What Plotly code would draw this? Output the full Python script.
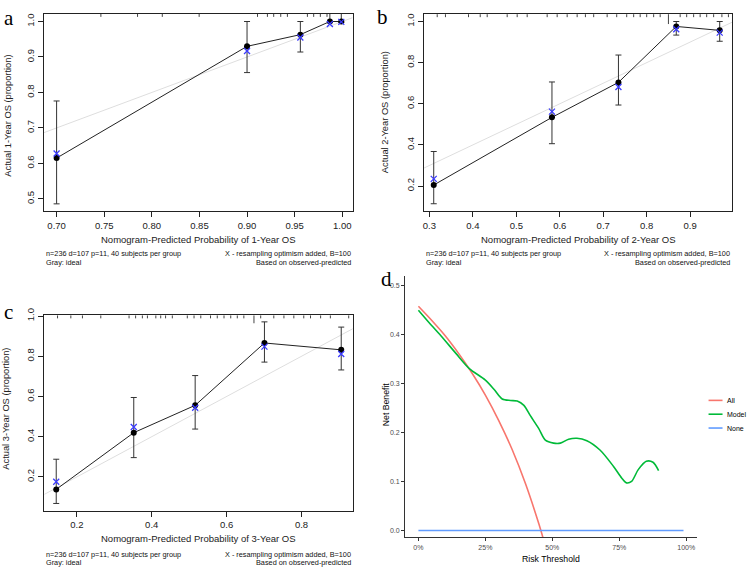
import plotly.graph_objects as go

W, H = 748, 567

def px(x):
    return x / W

def py(y):
    return 1 - y / H

# ---------------- data ----------------
# Panel a: 1-year OS calibration
a_pred = [0.700, 0.900, 0.956, 0.987, 0.999]
a_obs = [0.615, 0.930, 0.963, 1.000, 1.000]
a_lo = [0.486, 0.856, 0.914, 0.997, 0.997]
a_hi = [0.776, 1.000, 1.000, 1.030, 1.030]
a_corr = [0.628, 0.917, 0.955, 0.993, 0.999]
a_rug = [0.7465, 0.785, 0.811, 0.8497, 0.911, 0.9214, 0.928, 0.9354, 0.9424,
         0.9634, 0.970, 0.977, 0.984]
a_rug_h = [0.015] * 13

# Panel b: 2-year OS calibration
b_pred = [0.310, 0.582, 0.735, 0.868, 0.968]
b_obs = [0.205, 0.534, 0.704, 0.976, 0.957]
b_lo = [0.114, 0.406, 0.594, 0.934, 0.904]
b_hi = [0.368, 0.706, 0.837, 1.000, 1.000]
b_corr = [0.235, 0.562, 0.682, 0.962, 0.946]
b_rug = [0.318, 0.337, 0.390, 0.417, 0.433, 0.479, 0.502, 0.525, 0.571, 0.594,
         0.617, 0.640, 0.659, 0.678, 0.709, 0.731, 0.754, 0.770, 0.785, 0.800,
         0.816, 0.831, 0.850, 0.877, 0.892, 0.908, 0.923, 0.938, 0.954, 0.973,
         0.988]
b_rug_h = [0.015] * 22 + [0.05] + [0.015] * 8

# Panel c: 3-year OS calibration
c_pred = [0.145, 0.352, 0.516, 0.701, 0.906]
c_obs = [0.138, 0.420, 0.556, 0.866, 0.832]
c_lo = [0.068, 0.296, 0.438, 0.771, 0.732]
c_hi = [0.288, 0.595, 0.704, 0.971, 0.945]
c_corr = [0.176, 0.448, 0.544, 0.848, 0.811]
c_rug = [0.1485, 0.184, 0.215, 0.264, 0.3395, 0.357, 0.375, 0.3885, 0.411,
         0.424, 0.437, 0.455, 0.495, 0.513, 0.531, 0.557, 0.575, 0.593, 0.611,
         0.6285, 0.646, 0.673, 0.691, 0.726, 0.753, 0.7795, 0.806, 0.824,
         0.851, 0.877, 0.926]
c_rug_h = [0.015] * 21 + [0.04] + [0.015] * 9

# Panel d: decision curve
all_t = [0.00, 0.05, 0.10, 0.15, 0.20, 0.25, 0.30, 0.35, 0.40, 0.45, 0.47]
all_nb = [0.457, 0.428, 0.397, 0.361, 0.321, 0.276, 0.224, 0.165, 0.095, 0.013, -0.024]
model_t = [0.000, 0.041, 0.084, 0.140, 0.190, 0.249, 0.282, 0.313, 0.344, 0.369,
           0.394, 0.418, 0.449, 0.474, 0.505, 0.530, 0.561, 0.592, 0.629, 0.678,
           0.728, 0.759, 0.777, 0.796, 0.821, 0.851, 0.876, 0.897]
model_nb = [0.449, 0.423, 0.397, 0.361, 0.330, 0.307, 0.288, 0.268, 0.265, 0.264,
            0.255, 0.234, 0.208, 0.184, 0.178, 0.178, 0.186, 0.188, 0.183, 0.164,
            0.131, 0.107, 0.097, 0.100, 0.124, 0.141, 0.139, 0.122]
none_t = [0.00, 0.99]
none_nb = [0.0, 0.0]

d_names = ["All", "Model", "None"]
d_colors = ["#F8766D", "#00BA38", "#619CFF"]

# ---------------- figure ----------------
fig = go.Figure()

SANS = "Liberation Sans, Arial, sans-serif"
SERIF = "Liberation Serif, Times New Roman, serif"
BLUE_X = "#3B3BFF"

panels = [
    dict(key="", pred=a_pred, obs=a_obs, lo=a_lo, hi=a_hi, corr=a_corr,
         rug=a_rug, rug_h=a_rug_h,
         xdom=[px(43), px(352)], ydom=[py(207), py(7)],
         xr=[0.6867, 1.0108], yr=[0.4646, 1.0214],
         xt=[0.70, 0.75, 0.80, 0.85, 0.90, 0.95, 1.00], xfmt=".2f",
         yt=[0.5, 0.6, 0.7, 0.8, 0.9, 1.0],
         xtitle="Nomogram-Predicted Probability of 1-Year OS",
         ytitle="Actual 1-Year OS (proportion)",
         xtitle_pos=(197.5, 235), ytitle_pos=(7, 110),
         foot_l=43.3, foot_r=352.3, foot_y=(250, 258.3),
         letter="a", letter_pos=(1.5, 10.8)),
    dict(key="2", pred=b_pred, obs=b_obs, lo=b_lo, hi=b_hi, corr=b_corr,
         rug=b_rug, rug_h=b_rug_h,
         xdom=[px(423.3), px(732.3)], ydom=[py(206.7), py(7.3)],
         xr=[0.287, 0.997], yr=[0.078, 1.0355],
         xt=[0.3, 0.4, 0.5, 0.6, 0.7, 0.8, 0.9], xfmt=".1f",
         yt=[0.2, 0.4, 0.6, 0.8, 1.0],
         xtitle="Nomogram-Predicted Probability of 2-Year OS",
         ytitle="Actual 2-Year OS (proportion)",
         xtitle_pos=(577.8, 235), ytitle_pos=(384, 106),
         foot_l=423.3, foot_r=732.3, foot_y=(250, 258.3),
         letter="b", letter_pos=(374, 10.2)),
    dict(key="3", pred=c_pred, obs=c_obs, lo=c_lo, hi=c_hi, corr=c_corr,
         rug=c_rug, rug_h=c_rug_h,
         xdom=[px(43.3), px(352.3)], ydom=[py(510), py(312.3)],
         xr=[0.113, 0.937], yr=[0.032, 1.003],
         xt=[0.2, 0.4, 0.6, 0.8], xfmt=".1f",
         yt=[0.2, 0.4, 0.6, 0.8, 1.0],
         xtitle="Nomogram-Predicted Probability of 3-Year OS",
         ytitle="Actual 3-Year OS (proportion)",
         xtitle_pos=(197.5, 538.3), ytitle_pos=(5, 406.7),
         foot_l=43.3, foot_r=352.3, foot_y=(554, 562.3),
         letter="c", letter_pos=(1.5, 308.5)),
]

annotations = []
shapes = []

for p in panels:
    k = p["key"]
    xa = "x" + k
    ya = "y" + k
    # ideal line
    fig.add_trace(go.Scatter(x=p["xr"], y=p["xr"], mode="lines",
                             line=dict(color="#DEDEDE", width=1),
                             xaxis=xa, yaxis=ya, showlegend=False, hoverinfo="skip"))
    # observed line with error bars
    fig.add_trace(go.Scatter(
        x=p["pred"], y=p["obs"], mode="lines+markers",
        line=dict(color="#222222", width=1),
        marker=dict(color="black", size=6),
        error_y=dict(type="data", symmetric=False,
                     array=[h - o for h, o in zip(p["hi"], p["obs"])],
                     arrayminus=[o - l for o, l in zip(p["obs"], p["lo"])],
                     color="#333333", thickness=1, width=3),
        xaxis=xa, yaxis=ya, showlegend=False, hoverinfo="skip"))
    # bias corrected
    fig.add_trace(go.Scatter(
        x=p["pred"], y=p["corr"], mode="markers",
        marker=dict(symbol="x-thin-open", size=6, color=BLUE_X,
                    line=dict(color=BLUE_X, width=1.3)),
        xaxis=xa, yaxis=ya, showlegend=False, hoverinfo="skip"))
    # rug
    for rx, rh in zip(p["rug"], p["rug_h"]):
        shapes.append(dict(type="line", xref=xa, yref=ya + " domain",
                           x0=rx, x1=rx, y0=1, y1=1 - rh,
                           line=dict(color="#444444", width=1)))
    axcommon = dict(showgrid=False, zeroline=False, showline=True, mirror=True,
                    linecolor="#222222", linewidth=1, ticks="outside", ticklen=5,
                    tickwidth=1, tickcolor="#222222",
                    tickfont=dict(family=SANS, size=9.5, color="#222222"))
    fig.update_layout(**{
        "xaxis" + k: dict(domain=p["xdom"], range=p["xr"], anchor=ya,
                          tickvals=p["xt"], tickformat=p["xfmt"], **axcommon),
        "yaxis" + k: dict(domain=p["ydom"], range=p["yr"], anchor=xa,
                          tickvals=p["yt"], tickformat=".1f", tickangle=-90,
                          **axcommon),
    })
    annotations.append(dict(text=p["xtitle"], x=px(p["xtitle_pos"][0]),
                            y=py(p["xtitle_pos"][1]), xref="paper", yref="paper",
                            showarrow=False, xanchor="center", yanchor="middle",
                            font=dict(family=SANS, size=9.5, color="#222222")))
    annotations.append(dict(text=p["ytitle"], x=px(p["ytitle_pos"][0]),
                            y=py(p["ytitle_pos"][1]), xref="paper", yref="paper",
                            showarrow=False, xanchor="center", yanchor="middle",
                            textangle=-90,
                            font=dict(family=SANS, size=9.3, color="#222222")))
    foot_font = dict(family=SANS, size=7.3, color="#111111")
    annotations += [
        dict(text="n=236 d=107 p=11, 40 subjects per group", x=px(p["foot_l"]),
             y=py(p["foot_y"][0]), xanchor="left"),
        dict(text="Gray: ideal", x=px(p["foot_l"]), y=py(p["foot_y"][1]),
             xanchor="left"),
        dict(text="X - resampling optimism added, B=100", x=px(p["foot_r"]),
             y=py(p["foot_y"][0]), xanchor="right"),
        dict(text="Based on observed-predicted", x=px(p["foot_r"]),
             y=py(p["foot_y"][1]), xanchor="right"),
    ]
    for an in annotations[-4:]:
        an.update(xref="paper", yref="paper", showarrow=False, yanchor="middle",
                  font=foot_font)
    annotations.append(dict(text=p["letter"], x=px(p["letter_pos"][0]),
                            y=py(p["letter_pos"][1]), xref="paper", yref="paper",
                            showarrow=False, xanchor="left", yanchor="middle",
                            font=dict(family=SERIF, size=21, color="black")))

# ---- panel d ----
for name, t, nb, col in zip(d_names, [all_t, model_t, none_t],
                            [all_nb, model_nb, none_nb], d_colors):
    fig.add_trace(go.Scatter(x=t, y=nb, mode="lines", name=name,
                             line=dict(color=col, width=1.6, shape="spline",
                                       smoothing=0.8),
                             xaxis="x4", yaxis="y4", showlegend=False,
                             hoverinfo="skip"))

daxis = dict(showgrid=False, zeroline=False, showline=True, mirror=False,
             linecolor="#333333", linewidth=1.1, ticks="outside", ticklen=3,
             tickwidth=1, tickcolor="#333333",
             tickfont=dict(family=SANS, size=7, color="#4D4D4D"))
fig.update_layout(
    xaxis4=dict(domain=[px(404.7), px(696.7)], range=[-0.0495, 1.0395], anchor="y4",
                tickvals=[0, 0.25, 0.5, 0.75, 1.0], tickformat=".0%", **daxis),
    yaxis4=dict(domain=[py(536.7), py(272)], range=[-0.0135, 0.5195], anchor="x4",
                tickvals=[0, 0.1, 0.2, 0.3, 0.4, 0.5], tickformat=".1f", **daxis),
)
annotations.append(dict(text="Risk Threshold", x=px(551), y=py(559), xref="paper",
                        yref="paper", showarrow=False, xanchor="center",
                        yanchor="middle",
                        font=dict(family=SANS, size=8.7, color="black")))
annotations.append(dict(text="Net Benefit", x=px(385), y=py(401.7), xref="paper",
                        yref="paper", showarrow=False, xanchor="center",
                        yanchor="middle", textangle=-90,
                        font=dict(family=SANS, size=8.7, color="black")))
annotations.append(dict(text="d", x=px(379), y=py(275.5), xref="paper",
                        yref="paper", showarrow=False, xanchor="left",
                        yanchor="middle",
                        font=dict(family=SERIF, size=21, color="black")))
# legend for panel d
for i, (name, col) in enumerate(zip(d_names, d_colors)):
    yy = py(398.3 + 14 * i)
    shapes.append(dict(type="line", xref="paper", yref="paper", x0=px(708.5),
                       x1=px(722.5), y0=yy, y1=yy, line=dict(color=col, width=1.6)))
    annotations.append(dict(text=name, x=px(725.5), y=yy, xref="paper", yref="paper",
                            showarrow=False, xanchor="left", yanchor="middle",
                            borderpad=0, font=dict(family=SANS, size=7, color="black")))

fig.update_layout(width=W, height=H, margin=dict(l=0, r=0, t=0, b=0),
                  paper_bgcolor="white", plot_bgcolor="white", showlegend=False,
                  annotations=annotations, shapes=shapes)

fig.write_html("out.html")
